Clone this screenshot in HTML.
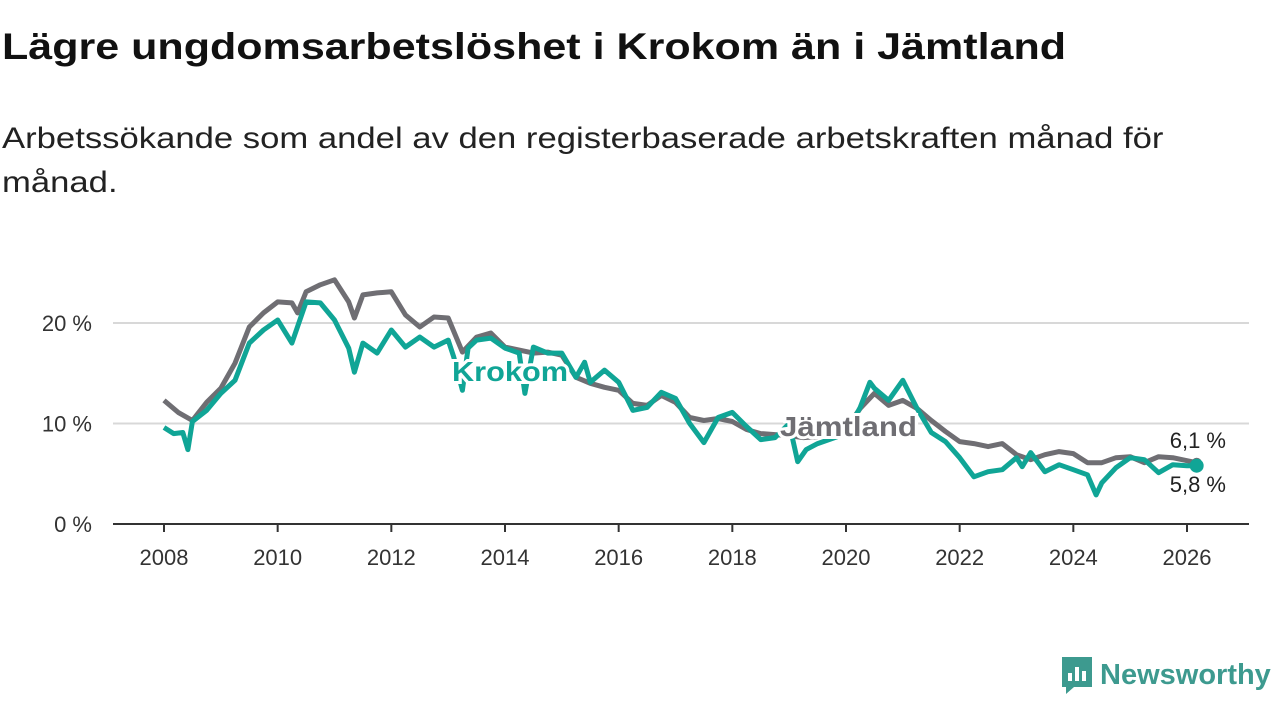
<!DOCTYPE html>
<html><head><meta charset="utf-8"><style>
body{margin:0;width:1280px;height:720px;background:#fff;overflow:hidden;font-family:"Liberation Sans",sans-serif;}
#title{position:absolute;left:2px;top:26px;font-size:37px;font-weight:bold;color:#111;white-space:nowrap;transform:scaleX(1.163);transform-origin:left top}
#sub{position:absolute;left:2px;top:117px;font-size:30px;line-height:44px;color:#222;white-space:nowrap;transform:scaleX(1.155);transform-origin:left top}
#logo{position:absolute;left:1060px;top:655px;display:flex;align-items:center}
</style></head><body>
<div id="title">Lägre ungdomsarbetslöshet i Krokom än i Jämtland</div>
<div id="sub">Arbetssökande som andel av den registerbaserade arbetskraften månad för<br>månad.</div>
<svg id="chart" width="1280" height="720" style="position:absolute;left:0;top:0"></svg>
<div id="logo">
<svg width="34" height="40" viewBox="0 0 34 40"><path d="M2 2h30v30H14l-8 7v-7H2z" fill="#3d9a8f"/><rect x="8" y="18" width="4" height="8" fill="#fff"/><rect x="15" y="12" width="4" height="14" fill="#fff"/><rect x="22" y="16" width="4" height="10" fill="#fff"/></svg>
<span style="font-size:29px;color:#3d9a8f;font-weight:bold;margin-left:6px">Newsworthy</span></div>
<script>
const jDates=[2008,2008.25,2008.5,2008.75,2009,2009.25,2009.5,2009.75,2010,2010.25,2010.35,2010.5,2010.75,2011,2011.25,2011.35,2011.5,2011.75,2012,2012.25,2012.5,2012.75,2013,2013.25,2013.5,2013.75,2014,2014.25,2014.5,2014.75,2015,2015.25,2015.5,2015.75,2016,2016.25,2016.5,2016.75,2017,2017.25,2017.5,2017.75,2018,2018.25,2018.5,2018.75,2019,2019.25,2019.5,2019.75,2020,2020.25,2020.5,2020.75,2021,2021.25,2021.5,2021.75,2022,2022.25,2022.5,2022.75,2023,2023.25,2023.5,2023.75,2024,2024.25,2024.5,2024.75,2025,2025.25,2025.5,2025.75,2026,2026.17];
const jamtland=[12.3,11.1,10.3,12.1,13.5,16.0,19.6,21.0,22.1,22.0,21.0,23.1,23.8,24.3,22.1,20.5,22.8,23.0,23.1,20.8,19.6,20.6,20.5,17.1,18.6,19.0,17.6,17.3,17.0,17.1,16.8,14.6,14.0,13.6,13.3,12.0,11.8,12.8,12.1,10.6,10.3,10.5,10.2,9.4,9.0,8.9,8.8,8.6,8.7,9.0,9.5,11.5,13.0,11.8,12.3,11.5,10.3,9.2,8.2,8.0,7.7,8.0,6.9,6.4,6.9,7.2,7.0,6.1,6.1,6.6,6.7,6.1,6.7,6.6,6.3,6.1];
const kDates=[2008,2008.17,2008.33,2008.42,2008.5,2008.75,2009,2009.25,2009.5,2009.75,2010,2010.25,2010.5,2010.75,2011,2011.25,2011.35,2011.5,2011.75,2012,2012.25,2012.5,2012.75,2013,2013.1,2013.25,2013.35,2013.5,2013.75,2014,2014.25,2014.35,2014.5,2014.75,2015,2015.25,2015.4,2015.5,2015.75,2016,2016.25,2016.5,2016.75,2017,2017.25,2017.5,2017.75,2018,2018.25,2018.5,2018.75,2019,2019.15,2019.3,2019.5,2019.75,2020,2020.25,2020.42,2020.5,2020.75,2021,2021.25,2021.5,2021.75,2022,2022.25,2022.5,2022.75,2023,2023.1,2023.25,2023.5,2023.75,2024,2024.25,2024.4,2024.5,2024.75,2025,2025.25,2025.5,2025.75,2026,2026.17];
const krokom=[9.6,9.0,9.1,7.4,10.2,11.3,13.0,14.3,18.0,19.3,20.3,18.0,22.1,22.0,20.3,17.5,15.1,18.0,17.0,19.3,17.6,18.6,17.6,18.3,16.6,13.3,17.5,18.3,18.5,17.5,17.0,13.0,17.6,17.0,17.0,14.6,16.1,14.1,15.3,14.1,11.3,11.6,13.1,12.5,10.0,8.1,10.6,11.1,9.7,8.4,8.6,10.0,6.2,7.4,8.0,8.5,9.0,11.6,14.1,13.5,12.3,14.3,11.5,9.1,8.2,6.6,4.7,5.2,5.4,6.6,5.7,7.1,5.2,5.9,5.4,4.9,2.9,4.1,5.6,6.6,6.4,5.1,5.9,5.8,5.8];
const yTicks=[0,10,20];
const yTickLabels=["0 %","10 %","20 %"];
const xTicks=[2008,2010,2012,2014,2016,2018,2020,2022,2024,2026];
const NS="http://www.w3.org/2000/svg";
const svg=document.getElementById('chart');
const X=d=>164+(d-2008)*(1187-164)/18;
const Y=v=>524-v*10.05;
function el(t,a,p){const e=document.createElementNS(NS,t);for(const k in a)e.setAttribute(k,a[k]);(p||svg).appendChild(e);return e;}
yTicks.forEach((t,i)=>{
 if(t>0){const g=el('line',{x1:113,x2:1249,y1:Y(t),y2:Y(t),stroke:'#d8d8d8','stroke-width':2});
 
 }
 const l=el('text',{x:92,y:Y(t)+8,'text-anchor':'end','font-size':22,fill:'#333'});l.textContent=yTickLabels[i];
 
 
});
xTicks.forEach(t=>{
 const tk=el('line',{x1:X(t),x2:X(t),y1:524,y2:532,stroke:'#333','stroke-width':2});
 
 
 const l=el('text',{x:X(t),y:565,'text-anchor':'middle','font-size':22,fill:'#333'});l.textContent=t;
 
 
});
const ax=el('line',{x1:113,x2:1249,y1:524,y2:524,stroke:'#333','stroke-width':2});


function path(ds,vs){return ds.map((d,i)=>(i?'L':'M')+X(d).toFixed(1)+' '+Y(vs[i]).toFixed(1)).join('');}
const pj=el('path',{d:path(jDates,jamtland),fill:'none',stroke:'#6f6e73','stroke-width':5,'stroke-linejoin':'round'});


const pk=el('path',{d:path(kDates,krokom),fill:'none',stroke:'#10a596','stroke-width':5,'stroke-linejoin':'round'});


const jl=jamtland.length-1,kl=krokom.length-1;
const dj=el('circle',{cx:X(jDates[jl]),cy:Y(jamtland[jl]),r:5,fill:'#6f6e73'});


const dk=el('circle',{cx:X(kDates[kl]),cy:Y(krokom[kl]),r:7,fill:'#10a596'});


function lab(txt,x,y,col,name,bold,anchor,w){
 const t=el('text',{x:x,y:y,'font-size':bold?28:22,'font-weight':bold?'bold':'normal',fill:col,stroke:'#fff','stroke-width':bold?6:5,'paint-order':'stroke','text-anchor':anchor||'start'});
 t.textContent=txt;
 if(w){t.setAttribute('textLength',w);t.setAttribute('lengthAdjust','spacingAndGlyphs');}
 
 
}
lab('Krokom',452,381,'#10a596','krokom-label',true,'start',116);
lab('Jämtland',780,436,'#6f6e73','jamtland-label',true,'start',137);
lab('6,1 %',1226,448,'#222','jamtland-end-value',false,'end');
lab('5,8 %',1226,492,'#222','krokom-end-value',false,'end');
</script>
</body></html>
